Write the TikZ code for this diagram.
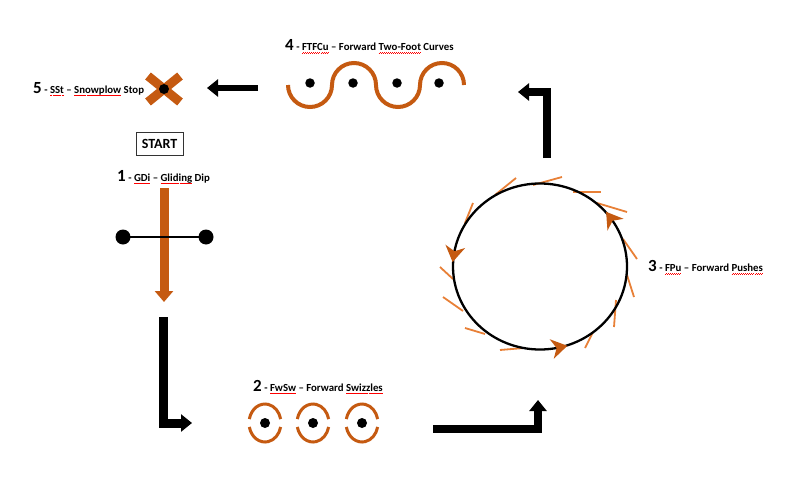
\documentclass[tikz,border=0pt]{standalone}
\usepackage{fontspec}
\setmainfont{Carlito}
\usetikzlibrary{arrows.meta,decorations.markings}
\definecolor{burnt}{RGB}{197,90,17}
\definecolor{tick}{RGB}{232,128,55}
\newcommand\redwave[1]{\setbox0\hbox{#1}\rlap{\color{red}\hbox to \wd0{\xleaders\hbox to 2pt{\rule[-2.9pt]{1pt}{0.5pt}\rule[-2.4pt]{1pt}{0.5pt}}\hfill}}\box0\relax}
\newcommand\bignum[1]{{\fontsize{17}{17}\selectfont #1}}
\newcommand\chevron{\fill[burnt] (-9,0) -- (7,-10) -- (2,0) -- (7,10) -- cycle;}
\tikzset{
  lbl/.style={anchor=base west, inner sep=0pt, font=\bfseries\fontsize{10.8}{12}\selectfont},
  blackdot/.style={circle, fill=black, inner sep=0pt, minimum size=#1},
  barrow/.style={draw=black, line width=#1, line join=miter, -{Triangle[width=17pt,length=11pt]}},
  oarrow/.style={draw=burnt, line width=9pt, -{Triangle[width=18pt,length=11pt]}},
  wave/.style={draw=burnt, line width=4pt},
  swz/.style={draw=burnt, line width=3pt},
  tickline/.style={draw=tick, line width=1.8pt}
}
\begin{document}
\begin{tikzpicture}[x=1pt,y=-1pt]
\useasboundingbox (0,0) rectangle (797,487);
\fill[white] (0,0) rectangle (797,487);

% ---- labels
\node[lbl] (l4) at (285,50.5) {\bignum{4} - \redwave{FTFCu} -- Forward \redwave{Two-Foot} Curves};
\node[lbl] (l5) at (33,93) {\bignum{5} - \redwave{SSt} -- \redwave{Snowplow} Stop};
\node[lbl] (l1) at (117,181) {\bignum{1} - \redwave{GDi} -- \redwave{Gliding} Dip};
\node[lbl] (l2) at (253,391) {\bignum{2} - \redwave{FwSw} -- Forward \redwave{Swizzles}};
\node[lbl] (l3) at (648,271.5) {\bignum{3} - \redwave{FPu} -- Forward \redwave{Pushes}};
\node[draw=black!80, line width=0.8pt, minimum width=47pt, minimum height=23pt, inner sep=0pt,
      font=\bfseries\fontsize{14}{14}\selectfont] (start) at (159.5,144) {START};

% ---- 5: snowplow stop
\coordinate (x5) at (164,89);
\draw[burnt, line width=9pt] (x5) ++(-16,-13) -- ++(32,26);
\draw[burnt, line width=9pt] (x5) ++(-16,13) -- ++(32,-26);
\node[blackdot=10pt] (d5) at (x5) {};

% ---- 1: gliding dip
\coordinate (o1s) at (164,188);
\coordinate (o1e) at (164,302);
\draw[oarrow] (o1s) -- (o1e);
\node[blackdot=15pt] (d1a) at (123,237) {};
\node[blackdot=15pt] (d1b) at (206,237) {};
\draw[black, line width=2pt] (d1a.center) -- (d1b.center);

% ---- arrow 1 -> 2
\coordinate (a12s) at (163,317);
\coordinate (a12e) at (192,423);
\draw[barrow=9pt] (a12s) |- (a12e);

% ---- 2: swizzles
\foreach \n/\xx in {1/265,2/313,3/362}{
  \node[blackdot=10pt] (sw\n) at (\xx,423) {};
  \draw[swz] (sw\n.center) ++(192:16 and 19) arc[start angle=192,end angle=348,x radius=16,y radius=19];
  \draw[swz] (sw\n.center) ++(168:16 and 19) arc[start angle=168,end angle=12,x radius=16,y radius=19];
}

% ---- arrow 2 -> 3
\coordinate (a23s) at (433,429);
\coordinate (a23e) at (538,400);
\draw[barrow=8pt] (a23s) -| (a23e);

% ---- 3: pushes circle
\coordinate (c3) at (540,266.5);
\foreach \ax/\ay/\bx/\by in {465/223/473/203, 495/195/516/178, 533/185/562/177, 573/192/601/192,
  597/203/627/212, 623/239/637/259, 627/275/634/297, 616/300/614/327, 585/348/593/332,
  500/350/524/348, 465/328/485/334, 443/297/463/311, 440/267/453/279}{
  \draw[tickline] (\ax,\ay) -- (\bx,\by);
}
\draw[black, line width=2.3pt, postaction={decorate}, decoration={markings,
   mark=at position 0.215 with {\chevron},
   mark=at position 0.525 with {\chevron},
   mark=at position 0.905 with {\chevron}}]
  (c3) ellipse[x radius=87, y radius=83];

% ---- arrow 3 -> 4
\coordinate (a34s) at (547,158);
\coordinate (a34e) at (518,92);
\draw[barrow=7.5pt] (a34s) |- (a34e);

% ---- 4: two-foot curves
\coordinate (w0) at (288,85);
\draw[wave] (w0) arc[start angle=180,end angle=0,radius=22]
               arc[start angle=180,end angle=360,radius=22]
               arc[start angle=180,end angle=0,radius=22]
               arc[start angle=180,end angle=360,radius=22];
\foreach \n/\xx in {1/310,2/353,3/397,4/439}{
  \node[blackdot=9.5pt] (cd\n) at (\xx,83) {};
}

% ---- arrow 4 -> 5
\coordinate (a45s) at (258,88);
\coordinate (a45e) at (207,88);
\draw[barrow=6pt] (a45s) -- (a45e);
\end{tikzpicture}
\end{document}
